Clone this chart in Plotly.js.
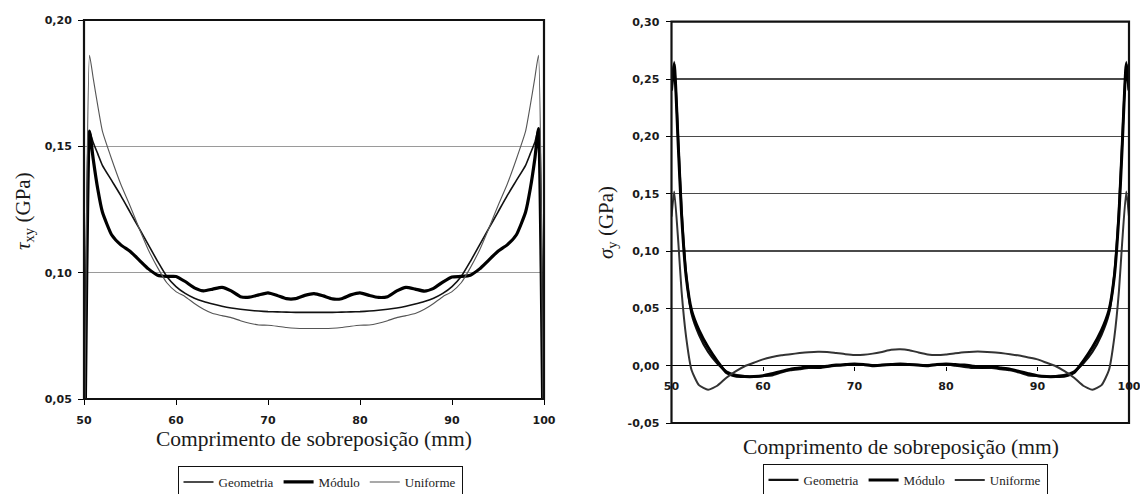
<!DOCTYPE html>
<html><head><meta charset="utf-8">
<script src="https://cdn.plot.ly/plotly-3.0.1.min.js"></script>
<style>html,body{margin:0;padding:0;background:#fff}#chart{width:1140px;height:494px}</style>
</head><body><div id="chart"></div>
<script>
// ---------- DATA ----------
const seriesNames = ['Geometria', 'Módulo', 'Uniforme'];

// Left chart: tau_xy (GPa) vs overlap length (mm)
const xTau = [50, 50.3, 50.6, 51, 51.5,
  52, 53, 54, 55, 56, 57, 58, 59, 60, 61,
  62, 63, 64, 65, 66, 67, 68, 69, 70, 71,
  72, 73, 74, 75, 76, 77, 78, 79, 80, 81,
  82, 83, 84, 85, 86, 87, 88, 89, 90, 91,
  92, 93, 94, 95, 96, 97, 98,
  98.5, 99, 99.4, 99.7, 100];
const tauGeometria = [0, 0.11, 0.156, 0.1515, 0.147,
  0.1425, 0.1365, 0.1305, 0.124, 0.1175, 0.111, 0.1045, 0.0985, 0.0945, 0.0918,
  0.0899, 0.0886, 0.0876, 0.0867, 0.0860, 0.0855, 0.0851, 0.0848, 0.0846, 0.0845,
  0.0844, 0.0843, 0.0843, 0.0843, 0.0843, 0.0843, 0.0844, 0.0845, 0.0846, 0.0848,
  0.0851, 0.0855, 0.0860, 0.0867, 0.0876, 0.0886, 0.0899, 0.0918, 0.0945, 0.0985,
  0.1045, 0.111, 0.1175, 0.124, 0.1305, 0.1365, 0.1425,
  0.147, 0.1515, 0.157, 0.11, 0];
const tauModulo = [0, 0.10, 0.156, 0.145, 0.133,
  0.124, 0.115, 0.111, 0.1085, 0.105, 0.1015, 0.099, 0.0985, 0.0985, 0.0965,
  0.0940, 0.0928, 0.0935, 0.0942, 0.0928, 0.0905, 0.0903, 0.0912, 0.0920, 0.0910,
  0.0897, 0.0897, 0.0910, 0.0917, 0.0908, 0.0896, 0.0897, 0.0912, 0.0920, 0.0910,
  0.0902, 0.0905, 0.0928, 0.0942, 0.0935, 0.0927, 0.0938, 0.0963, 0.0983, 0.0985,
  0.099, 0.1015, 0.105, 0.1085, 0.111, 0.115, 0.124,
  0.133, 0.145, 0.157, 0.10, 0];
const tauUniforme = [0, 0.13, 0.186, 0.177, 0.166,
  0.156, 0.145, 0.135, 0.1265, 0.1175, 0.109, 0.102, 0.096, 0.0925, 0.0905,
  0.0878, 0.0855, 0.0838, 0.0830, 0.0822, 0.0810, 0.0800, 0.0793, 0.0792, 0.0788,
  0.0783, 0.0780, 0.0779, 0.0779, 0.0779, 0.0780, 0.0783, 0.0788, 0.0792, 0.0793,
  0.0800, 0.0810, 0.0822, 0.0830, 0.0838, 0.0855, 0.0878, 0.0905, 0.0925, 0.096,
  0.102, 0.109, 0.1175, 0.1265, 0.135, 0.145, 0.156,
  0.166, 0.177, 0.186, 0.13, 0];

// Right chart: sigma_y (GPa) vs overlap length (mm)
const xSigma = [50, 50.3, 50.75, 51.1, 51.6, 52.2,
  53, 54, 55, 56, 57, 58, 59, 60, 61, 62,
  63, 64, 65, 66, 67, 68, 69, 70, 71, 72,
  73, 74, 75, 76, 77, 78, 79, 80, 81, 82,
  83, 84, 85, 86, 87, 88, 89, 90, 91, 92,
  93, 94, 95, 96, 97,
  97.8, 98.4, 98.9, 99.25, 99.7, 100];
const sigmaGeometria = [0.24, 0.265, 0.194, 0.136, 0.080, 0.045,
  0.027, 0.012, 0.002, -0.005, -0.008, -0.009, -0.0095, -0.009, -0.0085, -0.006,
  -0.004, -0.003, -0.002, -0.002, -0.001, 0.0, 0.0005, 0.001, 0.0008, 0.0005,
  0.0005, 0.0008, 0.001, 0.0008, 0.0005, 0.0005, 0.0008, 0.001, 0.0, -0.001,
  -0.002, -0.002, -0.002, -0.003, -0.004, -0.006, -0.0085, -0.009, -0.0095, -0.009,
  -0.008, -0.005, 0.002, 0.012, 0.027,
  0.045, 0.080, 0.136, 0.194, 0.265, 0.24];
const sigmaModulo = [0.24, 0.263, 0.19, 0.132, 0.078, 0.048,
  0.031, 0.016, 0.004, -0.006, -0.009, -0.0095, -0.0095, -0.0088, -0.007, -0.005,
  -0.003, -0.002, -0.001, -0.0015, -0.0005, 0.0005, 0.001, 0.0015, 0.001, 0.0,
  0.0005, 0.001, 0.0015, 0.001, 0.0005, 0.0, 0.001, 0.0015, 0.001, 0.0005,
  -0.0005, -0.0015, -0.001, -0.002, -0.003, -0.005, -0.007, -0.0088, -0.0095, -0.0095,
  -0.009, -0.006, 0.004, 0.016, 0.031,
  0.048, 0.078, 0.132, 0.19, 0.263, 0.24];
const sigmaUniforme = [0.13, 0.152, 0.107, 0.065, 0.025, -0.004,
  -0.017, -0.021, -0.0175, -0.0105, -0.005, -0.0005, 0.0025, 0.0055, 0.0075, 0.009,
  0.010, 0.011, 0.0118, 0.0122, 0.012, 0.011, 0.010, 0.0093, 0.0095, 0.0105,
  0.012, 0.0138, 0.0143, 0.0135, 0.0115, 0.0098, 0.0093, 0.0098, 0.0108, 0.0117,
  0.0122, 0.0122, 0.0118, 0.011, 0.010, 0.0088, 0.0072, 0.0055, 0.0025, -0.0005,
  -0.005, -0.0105, -0.0175, -0.021, -0.017,
  -0.004, 0.025, 0.065, 0.107, 0.152, 0.13];

// Tick labels
const xTickVals = [50, 60, 70, 80, 90, 100];
const xTickText = ['50', '60', '70', '80', '90', '100'];
const tauTickVals = [0.05, 0.10, 0.15, 0.20];
const tauTickText = ['0,05', '0,10', '0,15', '0,20'];
const sigmaTickVals = [-0.05, 0, 0.05, 0.10, 0.15, 0.20, 0.25, 0.30];
const sigmaTickText = ['-0,05', '0,00', '0,05', '0,10', '0,15', '0,20', '0,25', '0,30'];

const xTitle = 'Comprimento de sobreposição (mm)';
const tauTitle = '<i>τ</i><sub>xy</sub> (GPa)';
const sigmaTitle = '<i>σ</i><sub>y</sub> (GPa)';

// ---------- LAYOUT ----------
const W = 1140, H = 494;
const fx = p => p / W;
const fy = p => 1 - p / H;
const PL = {x0: 84, x1: 544, y0: 20, y1: 399};
const PR = {x0: 671.5, x1: 1129, y0: 21.7, y1: 423};
const tauRange = [0.05, 0.20];
const sigmaRange = [-0.05, 0.30];

const serif = 'Liberation Serif, Times New Roman, serif';
const tickFont = {family: 'DejaVu Sans, Arial, sans-serif', size: 11, color: '#1a1a1a', weight: 'bold'};

const leftStyles = [
  {color: '#111', width: 1.6},
  {color: '#000', width: 3.2},
  {color: '#555', width: 1.1}
];
const rightStyles = [
  {color: '#111', width: 2.2},
  {color: '#000', width: 3.0},
  {color: '#333', width: 2.0}
];

const tauSeries = [tauGeometria, tauModulo, tauUniforme];
const sigmaSeries = [sigmaGeometria, sigmaModulo, sigmaUniforme];

const traces = [];
tauSeries.forEach((ys, i) => traces.push({
  type: 'scatter', mode: 'lines', x: xTau, y: ys, name: seriesNames[i],
  xaxis: 'x', yaxis: 'y', legend: 'legend',
  line: {color: leftStyles[i].color, width: leftStyles[i].width, shape: 'spline', smoothing: 0.5}
}));
sigmaSeries.forEach((ys, i) => traces.push({
  type: 'scatter', mode: 'lines', x: xSigma, y: ys, name: seriesNames[i],
  xaxis: 'x2', yaxis: 'y2', legend: 'legend2',
  line: {color: rightStyles[i].color, width: rightStyles[i].width, shape: 'spline', smoothing: 0.5}
}));

const rYd = [fy(PR.y1), fy(PR.y0)];
const zeroPos = rYd[0] + (0 - sigmaRange[0]) / (sigmaRange[1] - sigmaRange[0]) * (rYd[1] - rYd[0]);

const legendCommon = {
  orientation: 'h', xanchor: 'center', yanchor: 'middle',
  bordercolor: '#111', borderwidth: 1, bgcolor: '#fff',
  font: {family: serif, size: 13, color: '#222'},
  itemwidth: 30, tracegroupgap: 0
};

const layout = {
  width: W, height: H,
  margin: {l: 0, r: 0, t: 0, b: 0, pad: 0, autoexpand: false},
  paper_bgcolor: '#fff', plot_bgcolor: '#fff',
  showlegend: true,
  legend: Object.assign({x: fx(320), y: fy(482)}, legendCommon),
  legend2: Object.assign({x: fx(905), y: fy(480)}, legendCommon),
  xaxis: {
    domain: [fx(PL.x0), fx(PL.x1)], range: [50, 100], anchor: 'y',
    tickvals: xTickVals, ticktext: xTickText, tickfont: tickFont,
    ticks: 'outside', ticklen: 5, tickcolor: '#000', tickwidth: 1,
    ticklabelstandoff: 6, ticklabeloverflow: 'allow',
    showgrid: false, zeroline: false, showline: false
  },
  yaxis: {
    domain: [fy(PL.y1), fy(PL.y0)], range: tauRange, anchor: 'x',
    tickvals: tauTickVals, ticktext: tauTickText, tickfont: tickFont,
    ticks: 'outside', ticklen: 5, tickcolor: '#000', tickwidth: 1,
    ticklabelstandoff: 4,
    showgrid: true, gridcolor: '#9a9a9a', gridwidth: 1,
    zeroline: false, showline: false
  },
  xaxis2: {
    domain: [fx(PR.x0), fx(PR.x1)], range: [50, 100], anchor: 'free', position: zeroPos,
    tickvals: xTickVals, ticktext: xTickText, tickfont: tickFont,
    ticks: 'outside', ticklen: 4, tickcolor: '#000', tickwidth: 1,
    ticklabelstandoff: 6, ticklabeloverflow: 'allow',
    showgrid: false, zeroline: false, showline: false
  },
  yaxis2: {
    domain: rYd, range: sigmaRange, anchor: 'x2',
    tickvals: sigmaTickVals, ticktext: sigmaTickText, tickfont: tickFont,
    ticks: 'outside', ticklen: 5, tickcolor: '#000', tickwidth: 1,
    ticklabelstandoff: 4,
    showgrid: true, gridcolor: '#4a4a4a', gridwidth: 1.1,
    zeroline: true, zerolinecolor: '#000', zerolinewidth: 1.6, showline: false
  },
  shapes: [
    {type: 'rect', xref: 'x domain', yref: 'y domain', x0: 0, x1: 1, y0: 0, y1: 1,
     line: {color: '#111', width: 2.2}, layer: 'above'},
    {type: 'rect', xref: 'x2 domain', yref: 'y2 domain', x0: 0, x1: 1, y0: 0, y1: 1,
     line: {color: '#111', width: 2.2}, layer: 'above'}
  ],
  annotations: [
    {text: xTitle, xref: 'paper', yref: 'paper', x: fx(314), y: fy(439),
     xanchor: 'center', yanchor: 'middle', showarrow: false,
     font: {family: serif, size: 21.5, color: '#1a1a1a'}},
    {text: xTitle, xref: 'paper', yref: 'paper', x: fx(901), y: fy(447),
     xanchor: 'center', yanchor: 'middle', showarrow: false,
     font: {family: serif, size: 21.5, color: '#1a1a1a'}},
    {text: tauTitle, xref: 'paper', yref: 'paper', x: fx(24), y: fy(211),
     xanchor: 'center', yanchor: 'middle', showarrow: false, textangle: -90,
     font: {family: serif, size: 21, color: '#1a1a1a'}},
    {text: sigmaTitle, xref: 'paper', yref: 'paper', x: fx(607), y: fy(223),
     xanchor: 'center', yanchor: 'middle', showarrow: false, textangle: -90,
     font: {family: serif, size: 21, color: '#1a1a1a'}}
  ],
  separators: ', '
};

Plotly.newPlot('chart', traces, layout, {staticPlot: true, displayModeBar: false});
</script>
</body></html>
